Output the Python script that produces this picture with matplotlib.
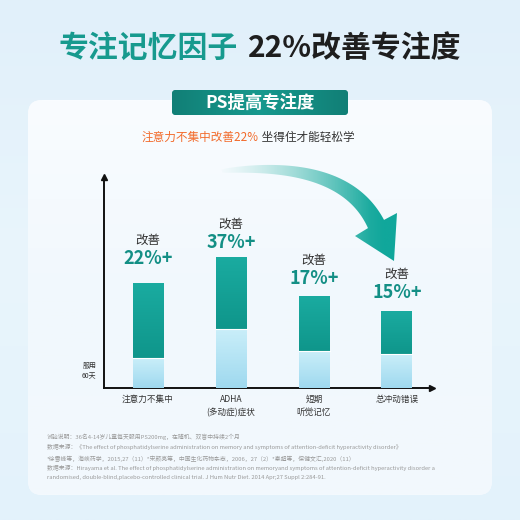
import numpy as np
import matplotlib.pyplot as plt
from matplotlib.patches import FancyBboxPatch, Polygon
from matplotlib.colors import LinearSegmentedColormap, to_rgb

plt.rcParams['font.family'] = ['Noto Sans CJK SC', 'DejaVu Sans']

# data
categories = ['注意力不集中', 'ADHA\n(多动症)症状', '短期\n听觉记忆', '总冲动错误']
improve = [22, 37, 17, 15]
bar_total = [105, 131, 92, 77]     # bar height after 60 days
bar_base = [30, 59, 37, 34]        # light lower part
label_gap = [25, 15, 18, 19]       # px gap between bar top and the % label

title_green = '专注记忆因子'
title_black = '22%改善专注度'
pill_text = 'PS提高专注度'
sub_orange = '注意力不集中改善22%'
sub_gray = ' 坐得住才能轻松学'
notes = [
    '试验说明：36名4-14岁儿童每天服用PS200mg，在随机、双盲中持续2个月',
    '数据来源：《The effect of phosphatidylserine administration on memory and symptoms of attention-deficit hyperactivity disorder》',
    '*徐雪峰等，海峡药学，2015,27（11）*宋颜亮等，中国生化药物杂志，2006，27（2）*秦超等，保健文汇,2020（11）',
    '数据来源：Hirayama et al. The effect of phosphatidylserine administration on memoryand symptoms of attention-deficit hyperactivity disorder a',
    'randomised, double-blind,placebo-controlled clinical trial. J Hum Nutr Diet. 2014 Apr;27 Suppl 2:284-91.',
]

TEAL = '#15a096'
DARK_TEAL = '#138a80'

fig = plt.figure(figsize=(5.2, 5.2), dpi=100)

# background layer in pixel coords
bg = fig.add_axes([0, 0, 1, 1])
bg.set_xlim(0, 520)
bg.set_ylim(520, 0)
bg.axis('off')
grad = np.linspace(0, 1, 256)[:, None]
bg_cmap = LinearSegmentedColormap.from_list('bg', ['#e1f0fa', '#e9f5fc', '#e3f2fb'])
bg.imshow(grad, cmap=bg_cmap, extent=[0, 520, 520, 0], aspect='auto', zorder=0)

card = FancyBboxPatch((28, 100), 464, 395, boxstyle='round,pad=0,rounding_size=14',
                      facecolor='#f5fafe', edgecolor='none', zorder=1)
bg.add_patch(card)
card_cmap = LinearSegmentedColormap.from_list('card', ['#f9fcff', '#f1f8fd', '#f3f9fd'])
im = bg.imshow(grad, cmap=card_cmap, extent=[28, 492, 495, 100], aspect='auto', zorder=1)
im.set_clip_path(card)

# title
bg.text(238, 48, title_green, ha='right', va='center', fontsize=21.5, color='#179a8e', fontweight='bold')
bg.text(248, 48, title_black, ha='left', va='center', fontsize=21.5, color='#1e1e1e', fontweight='bold')

# pill
pill = FancyBboxPatch((172, 90), 176, 25, boxstyle='round,pad=0,rounding_size=4',
                      facecolor=DARK_TEAL, edgecolor='none', zorder=3)
bg.add_patch(pill)
pill_cmap = LinearSegmentedColormap.from_list('pill', ['#117f76', '#17998e', '#117f76'])
im = bg.imshow(np.linspace(0, 1, 256)[None, :], cmap=pill_cmap, extent=[172, 348, 115, 90],
               aspect='auto', zorder=3)
im.set_clip_path(pill)
bg.text(260, 103, pill_text, ha='center', va='center', fontsize=12.5, color='white',
        fontweight='bold', zorder=4)

# subtitle
t1 = bg.text(142, 137, sub_orange, ha='left', va='center', fontsize=8.4, color='#f26a2a')
bg.annotate(sub_gray, xycoords=t1, xy=(1, 0.5), va='center', ha='left', fontsize=8.4, color='#333333')

# curved arrow (pixel coords)
p0, p1, p2 = np.array([222., 171.]), np.array([344., 159.]), np.array([376., 224.])
t = np.linspace(0, 1, 60)[:, None]
pts = (1 - t) ** 2 * p0 + 2 * t * (1 - t) * p1 + t ** 2 * p2
d = np.gradient(pts, axis=0)
n = np.stack([-d[:, 1], d[:, 0]], axis=1)
n /= np.linalg.norm(n, axis=1)[:, None]
w = (1.5 + 7.5 * t[:, 0] ** 0.6)[:, None]
upper = pts + n * w
lower = pts - n * w
body = np.vstack([upper, [355, 236], [394, 261], [397, 213], lower[::-1]])
arrow = Polygon(body, closed=True, facecolor='none', edgecolor='none', zorder=2)
bg.add_patch(arrow)
xs = np.linspace(0, 1, 256)
alpha = np.clip(xs * 1.2, 0, 1) ** 0.8
c0, c1 = np.array(to_rgb('#bfe9e4')), np.array(to_rgb('#11a79b'))
cols = c0 + (c1 - c0) * np.clip(xs * 1.1, 0, 1)[:, None] ** 0.8
rgba = np.concatenate([cols, alpha[:, None]], axis=1)[None, :, :]
im = bg.imshow(rgba, extent=[218, 400, 265, 155], aspect='auto', zorder=2)
im.set_clip_path(arrow)

# chart axes
ax = fig.add_axes([104 / 520, (520 - 388) / 520, (432 - 104) / 520, (388 - 177) / 520])
ax.patch.set_alpha(0)
ax.set_zorder(5)
xpos = np.arange(len(categories))
bw = 31 / 83
teal_bars = ax.bar(xpos, np.array(bar_total) - np.array(bar_base), bottom=bar_base, width=bw,
                   color=TEAL, zorder=2)
base_bars = ax.bar(xpos, bar_base, width=bw, color='#b8e6f5', zorder=2)
teal_cmap = LinearSegmentedColormap.from_list('tb', ['#0f968b', '#1aaba0'])
light_cmap = LinearSegmentedColormap.from_list('lb', ['#9fd9ef', '#c9eef9'])
for i in range(len(categories)):
    g = np.linspace(0, 1, 64)[:, None]
    r = ax.imshow(g, cmap=teal_cmap, origin='lower', aspect='auto', zorder=3,
                  extent=[xpos[i] - bw / 2, xpos[i] + bw / 2, bar_base[i], bar_total[i]])
    r.set_clip_path(teal_bars[i])
    r = ax.imshow(g, cmap=light_cmap, origin='lower', aspect='auto', zorder=3,
                  extent=[xpos[i] - bw / 2, xpos[i] + bw / 2, 0, bar_base[i]])
    r.set_clip_path(base_bars[i])
    ax.plot([xpos[i] - bw / 2, xpos[i] + bw / 2], [bar_base[i]] * 2, color='white', lw=0.8, zorder=4)
    ax.annotate(f'{improve[i]}%+', (xpos[i], bar_total[i]), xytext=(0, label_gap[i] * 0.72),
                textcoords='offset points', ha='center', va='center', fontsize=13,
                color='#138f85', fontweight='bold')
    ax.annotate('改善', (xpos[i], bar_total[i]), xytext=(0, (label_gap[i] + 18) * 0.72),
                textcoords='offset points', ha='center', va='center', fontsize=9, color='#333333')

ax.set_xlim(-44 / 83, (328 - 44) / 83)
ax.set_ylim(0, 211)
ax.set_xticks(xpos)
ax.set_xticklabels(categories, fontsize=6.2, color='#333333', linespacing=1.5, va='top')
ax.tick_params(axis='x', length=0, pad=5)
ax.set_yticks([])
for s in ['top', 'right']:
    ax.spines[s].set_visible(False)
for s in ['left', 'bottom']:
    ax.spines[s].set_color('#111111')
    ax.spines[s].set_linewidth(1.4)
ax.plot(0, 1, '^', ms=5, color='#111111', transform=ax.transAxes, clip_on=False)
ax.plot(1, 0, '>', ms=5, color='#111111', transform=ax.transAxes, clip_on=False)
ax.text(-0.045, 0.08, '服用\n60天', transform=ax.transAxes, ha='center', va='center',
        fontsize=5, color='#333333', linespacing=1.4)

# footnotes
note_y = [437, 447, 459, 468, 477]
for y, s in zip(note_y, notes):
    bg.text(47, y, s, ha='left', va='center', fontsize=4.2, color='#9a9a9a', zorder=3)

fig.savefig('out.png', dpi=100)
